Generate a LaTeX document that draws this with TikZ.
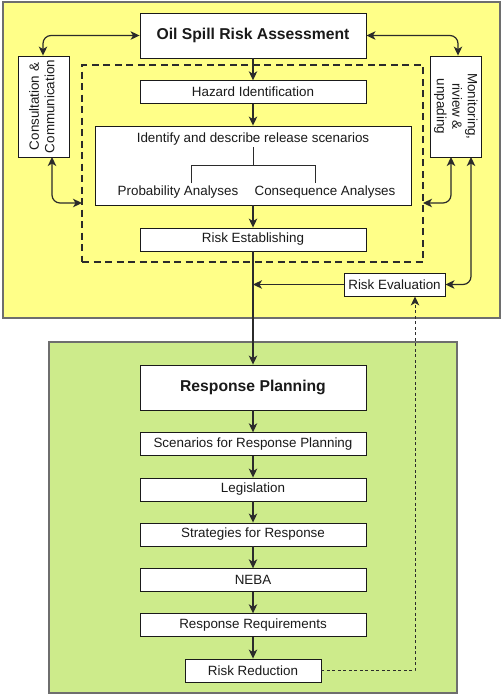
\documentclass[tikz,border=0pt]{standalone}
\usepackage{fontspec}
\setmainfont{Liberation Sans}
\usetikzlibrary{arrows.meta}
\definecolor{panelyellow}{HTML}{FFFF88}
\definecolor{panelgreen}{HTML}{CDEB8B}
\definecolor{panelframe}{HTML}{6E6E6E}
\definecolor{ink}{HTML}{1A1A1A}
\definecolor{wire}{HTML}{2B2B2B}
\begin{document}
\begin{tikzpicture}[x=1pt,y=-1pt,
  panel/.style={draw=panelframe,line width=2pt},
  stepbox/.style={draw=ink,fill=white,line width=0.9pt,inner sep=0pt,
    text=ink,font=\fontsize{13.4}{15.5}\selectfont,minimum width=226pt,minimum height=22.5pt},
  headbox/.style={stepbox,minimum height=45pt,font=\fontsize{15.7}{18}\selectfont\bfseries},
  sidebox/.style={stepbox,minimum width=51pt,minimum height=101pt},
  tip/.tip={Stealth[length=9pt,width=8.5pt,inset=2.5pt]},
  flow/.style={draw=wire,line width=1.2pt,-tip},
  twoway/.style={draw=wire,line width=1.2pt,rounded corners=8pt,tip-tip},
  branch/.style={draw=wire,line width=0.8pt},
  frame/.style={draw=wire,line width=1.5pt,dash pattern=on 7pt off 4.5pt},
  feedback/.style={draw=wire,line width=0.9pt,dash pattern=on 3pt off 2.5pt,-tip},
  plain/.style={text=ink,font=\fontsize{13.4}{15.5}\selectfont,inner sep=0pt}]
\useasboundingbox (0,0) rectangle (502,694);

% background panels
\fill[panelyellow] (3,2) rectangle (500,318);
\draw[panel] (3,2) rectangle (500,318);
\fill[panelgreen] (49,342) rectangle (457,692.5);
\draw[panel] (49,342) rectangle (457,692.5);

% assessment stage
\node[frame,minimum width=341pt,minimum height=197pt,inner sep=0pt] (scope) at (252.5,163.5) {};
\node[headbox] (title) at (253,35.5) {Oil Spill Risk Assessment};
\node[stepbox] (hazard) at (253,92) {Hazard Identification};
\node[stepbox,minimum width=316pt,minimum height=79pt] (ident) at (253,165.5) {};
\node[plain] (identtxt) at (253,139) {Identify and describe release scenarios};
\node[plain] (prob) at (178,192) {Probability Analyses};
\node[plain] (cons) at (325,192) {Consequence Analyses};
\coordinate (bsplit) at (253,147);
\coordinate (bmid) at (253,165);
\coordinate (bl) at (191,165);
\coordinate (br) at (315,165);
\coordinate (blend) at (191,183);
\coordinate (brend) at (315,183);
\draw[branch] (bsplit) -- (bmid);
\draw[branch] (blend) -- (bl) -- (br) -- (brend);
\node[stepbox,minimum height=23pt] (riskest) at (253,239.5) {Risk Establishing};
\node[stepbox,minimum width=101pt,minimum height=23pt] (riskeval) at (394.5,284.5) {Risk Evaluation};

\node[sidebox] (consult) at (43.5,106.5)
  {\rotatebox{90}{\begin{tabular}{@{}c@{}}Consultation \&\\Communication\end{tabular}}};
\node[sidebox] (monitor) at (455.5,106.5)
  {\rotatebox{-90}{\begin{tabular}{@{}c@{}}Monitoring,\\riview \&\\unpading\end{tabular}}};

% response stage
\node[headbox] (resp) at (253,387.5) {Response Planning};
\node[stepbox] (scen) at (253,444) {Scenarios for Response Planning};
\node[stepbox,minimum height=23pt] (legis) at (253,489.5) {Legislation};
\node[stepbox,minimum height=23pt] (strat) at (253,534.5) {Strategies for Response};
\node[stepbox] (neba) at (253,580) {NEBA};
\node[stepbox] (req) at (253,625) {Response Requirements};
\node[stepbox,minimum width=136pt,minimum height=23pt] (reduce) at (253,670.5) {Risk Reduction};

% main flow
\draw[flow] (title) -- (hazard);
\draw[flow] (hazard) -- (ident);
\draw[flow] (ident) -- (riskest);
\draw[flow] (riskest) -- (resp);
\coordinate (evaljoin) at (253,284.5);
\draw[flow] (riskeval) -- (evaljoin);
\draw[flow] (resp) -- (scen);
\draw[flow] (scen) -- (legis);
\draw[flow] (legis) -- (strat);
\draw[flow] (strat) -- (neba);
\draw[flow] (neba) -- (req);
\draw[flow] (req) -- (reduce);

% feedback from risk reduction
\coordinate (fbcorner) at (415,670.5);
\draw[feedback] (reduce.east) -- (fbcorner) -- (fbcorner |- riskeval.south);

% two-way links with the side boxes
\coordinate (cturn) at (43,35.5);
\draw[twoway] (title.west) -- (cturn) -- (consult.north -| cturn);
\coordinate (mturn) at (458,35.5);
\draw[twoway] (title.east) -- (mturn) -- (monitor.north -| mturn);
\coordinate (cbot) at (52,157);
\coordinate (scopeL) at (82,203);
\draw[twoway] (cbot) -- (cbot |- scopeL) -- (scopeL);
\coordinate (mbotA) at (451,157);
\coordinate (scopeR) at (423,203);
\draw[twoway] (mbotA) -- (mbotA |- scopeR) -- (scopeR);
\coordinate (mbotB) at (471,157);
\draw[twoway] (mbotB) -- (mbotB |- riskeval.east) -- (riskeval.east);
\end{tikzpicture}
\end{document}
